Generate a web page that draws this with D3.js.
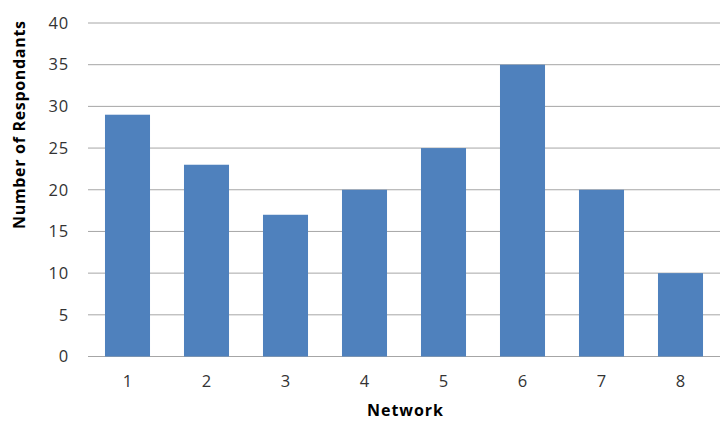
<!DOCTYPE html>
<html><head><meta charset="utf-8">
<script src="https://cdn.jsdelivr.net/npm/d3@7"></script>
<style>body{margin:0;background:#fff}</style>
</head><body>
<svg id="chart" width="720" height="421"></svg>
<script>
const categories = ["1","2","3","4","5","6","7","8"];
const values = [29, 23, 17, 20, 25, 35, 20, 10];
const yTicks = [0,5,10,15,20,25,30,35,40];

const svg = d3.select("#chart");
const font = "'Open Sans', 'Liberation Sans', sans-serif";
const x = d3.scaleBand().domain(categories).range([88, 720]).paddingInner(0.43).paddingOuter(0.215);
const y = d3.scaleLinear().domain([0, 40]).range([356.5, 23]);

const grid = svg.append("g");
grid.selectAll("line").data(yTicks).join("line")
  .attr("x1", 88).attr("x2", 720)
  .attr("y1", d => y(d)).attr("y2", d => y(d))
  .attr("stroke", "#a6a6a6").attr("stroke-width", 1);

svg.append("g").selectAll("rect").data(values).join("rect")
  .attr("x", (d,i) => x(categories[i]))
  .attr("width", x.bandwidth())
  .attr("y", d => y(d))
  .attr("height", d => y(0) - y(d))
  .attr("fill", "#4f81bd");

const yAxis = svg.append("g").attr("transform", "translate(69,0)")
  .call(d3.axisLeft(y).tickValues(yTicks).tickSize(0).tickPadding(0));
yAxis.select(".domain").remove();
yAxis.selectAll("text").attr("font-family", font).attr("font-size", 16.5).attr("fill", "#333").attr("letter-spacing", 0.8);

const xAxis = svg.append("g").attr("transform", `translate(0,${y(0)})`)
  .call(d3.axisBottom(x).tickSize(0).tickPadding(19));
xAxis.select(".domain").remove();
xAxis.selectAll("text").attr("font-family", font).attr("font-size", 16.5).attr("fill", "#333");

svg.append("text").attr("transform", "translate(25,125) rotate(-90)")
  .attr("text-anchor", "middle").attr("font-family", font).attr("font-weight", "bold")
  .attr("font-size", 16).attr("fill", "#000")
  .attr("textLength", 208).attr("lengthAdjust", "spacing")
  .text("Number of Respondants");

svg.append("text").attr("x", 405).attr("y", 416)
  .attr("text-anchor", "middle").attr("font-family", font).attr("font-weight", "bold")
  .attr("font-size", 16).attr("fill", "#000")
  .attr("textLength", 76).attr("lengthAdjust", "spacing")
  .text("Network");
</script>
</body></html>
